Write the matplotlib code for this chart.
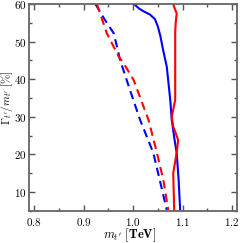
import matplotlib
matplotlib.use("Agg")
import matplotlib.pyplot as plt
from matplotlib.ticker import MultipleLocator, FuncFormatter

plt.rcParams['mathtext.fontset'] = 'cm'

# Blue solid
blue_solid_m = [1.002, 1.012, 1.022, 1.034, 1.044, 1.050, 1.055, 1.061, 1.068, 1.075, 1.078, 1.083, 1.088, 1.092, 1.095]
blue_solid_y = [60.0, 58.8, 58.0, 57.2, 56.0, 54.0, 51.5, 47.5, 43.3, 34.5, 29.2, 24.5, 20.4, 13.0, 5.2]
# Red solid
red_solid_m = [1.081, 1.084, 1.088, 1.086, 1.085, 1.085, 1.085, 1.078, 1.081, 1.091, 1.088, 1.081, 1.082, 1.083]
red_solid_y = [60.0, 58.8, 57.5, 55.0, 52.3, 43.3, 34.5, 30.0, 27.4, 23.8, 20.4, 15.0, 10.0, 5.0]
# Blue dashed
blue_dash_m = [0.924, 0.942, 0.961, 0.974, 0.994, 1.014, 1.041, 1.055, 1.068]
blue_dash_y = [60.0, 56.0, 52.2, 45.0, 37.0, 29.2, 20.3, 12.5, 5.2]
# Red dashed
red_dash_m = [0.927, 0.947, 0.971, 0.981, 1.001, 1.031, 1.047, 1.061, 1.071]
red_dash_y = [60.0, 52.2, 46.0, 44.2, 39.8, 29.2, 21.0, 13.2, 5.2]

fig = plt.figure(figsize=(2.4, 2.43), dpi=100)
ax = fig.add_axes([0.121, 0.133, 0.865, 0.8505])

ax.plot(blue_solid_m, blue_solid_y, color='#0000ff', lw=1.5)
ax.plot(red_solid_m, red_solid_y, color='#ff0000', lw=1.5)
ax.plot(blue_dash_m, blue_dash_y, color='#0000ff', lw=1.5, dashes=(4, 2.5))
ax.plot(red_dash_m, red_dash_y, color='#ff0000', lw=1.5, dashes=(4, 2.5))

ax.set_xlim(0.79, 1.209)
ax.set_ylim(5, 60)
ax.xaxis.set_major_locator(MultipleLocator(0.1))
ax.xaxis.set_minor_locator(MultipleLocator(0.05))
ax.yaxis.set_major_locator(MultipleLocator(10))
ax.yaxis.set_minor_locator(MultipleLocator(5))
ax.xaxis.set_major_formatter(FuncFormatter(lambda v, p: r'$\mathbf{%.1f}$' % v))
ax.yaxis.set_major_formatter(FuncFormatter(lambda v, p: r'$\mathbf{%d}$' % round(v)))
ax.tick_params(which='both', direction='in', top=True, right=True, labelsize=8, color='#555555')
ax.tick_params(which='major', length=4, width=1)
ax.tick_params(which='minor', length=2.5, width=1)
ax.tick_params(axis='x', pad=4)
ax.tick_params(axis='y', pad=1.5)
for s in ax.spines.values():
    s.set_color('#666666')
    s.set_linewidth(1.3)

fig.text(0.54, 0.03, r"$\boldsymbol{m_{t'}}\ \mathbf{[TeV]}$", fontsize=9, ha='center', va='center')
fig.text(0.029, 0.60, r"$\boldsymbol{\Gamma_{t'}/m_{t'}}\ \mathbf{[\%]}$", fontsize=8,
         ha='center', va='center', rotation=90)

fig.savefig('out.png', dpi=100)
